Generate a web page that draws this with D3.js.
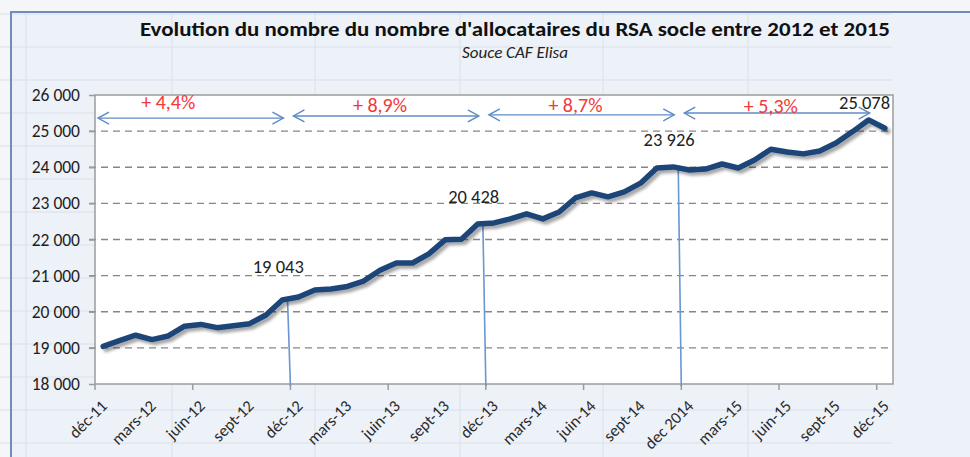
<!DOCTYPE html>
<html>
<head>
<meta charset="utf-8">
<script src="https://cdn.jsdelivr.net/npm/d3@7"></script>
<style>
  body { margin: 0; background: #f4f6fa; }
  svg { display: block; font-family: Carlito, Lato, sans-serif; }
</style>
</head>
<body>
<div id="chart"></div>
<script>
// monthly categories, déc-11 -> déc-15
const months = [
  "déc-11", "janv-12", "févr-12", "mars-12", "avr-12", "mai-12", "juin-12", "juil-12", "août-12", "sept-12", "oct-12", "nov-12",
  "déc-12", "janv-13", "févr-13", "mars-13", "avr-13", "mai-13", "juin-13", "juil-13", "août-13", "sept-13", "oct-13", "nov-13",
  "déc-13", "janv-14", "févr-14", "mars-14", "avr-14", "mai-14", "juin-14", "juil-14", "août-14", "sept-14", "oct-14", "nov-14",
  "dec 2014", "janv-15", "févr-15", "mars-15", "avr-15", "mai-15", "juin-15", "juil-15", "août-15", "sept-15", "oct-15", "nov-15",
  "déc-15"
];

// allocataires RSA socle
const values = [
  19043, 19200, 19350, 19230, 19330, 19600, 19650, 19560, 19610, 19670, 19910, 20325,
  20410, 20600, 20630, 20700, 20850, 21150, 21350, 21350, 21600, 21990, 22010, 22430,
  22460, 22570, 22710, 22570, 22760, 23150, 23290, 23180, 23320, 23560, 23980, 24010,
  23926, 23950, 24090, 23980, 24200, 24500, 24420, 24370, 24450, 24670, 24980, 25310,
  25078
];

const yTicks = [18000, 19000, 20000, 21000, 22000, 23000, 24000, 25000, 26000];

// yearly spans with their growth rate
const spanStart = ["déc-11", "déc-12", "déc-13", "dec 2014"];
const spanEnd = ["déc-12", "déc-13", "dec 2014", "déc-15"];
const spanArrowY = [25360, 25420, 25450, 25500];
const spanLabels = ["+ 4,4%", "+ 8,9%", "+ 8,7%", "+ 5,3%"];
const spanLabelMonth = ["avr-12", "mai-13", "mai-14", "mai-15"];
const spanLabelY = [25610, 25530, 25530, 25500];

// black value notes
const noteLabels = ["19 043", "20 428", "23 926", "25 078"];
const noteMonth = ["nov-12", "nov-13", "nov-14", "nov-15"];
const noteY = [21070, 23010, 24590, 25610];

// vertical markers
const markerMonths = ["déc-12", "déc-13", "dec 2014"];

const title = "Evolution du nombre du nombre d'allocataires du RSA socle entre 2012 et 2015";
const subtitle = "Souce CAF Elisa";

const width = 970;
const height = 457;
const plot = { left: 95, right: 893, top: 95, bottom: 384 };

const svg = d3.select("#chart").append("svg")
  .attr("width", width)
  .attr("height", height);

const defs = svg.append("defs");
defs.append("filter")
  .attr("id", "shadow")
  .attr("x", "-5%").attr("y", "-20%").attr("width", "110%").attr("height", "140%")
  .append("feDropShadow")
  .attr("dx", 3).attr("dy", 3)
  .attr("stdDeviation", 1.8)
  .attr("flood-color", "#000")
  .attr("flood-opacity", 0.35);

defs.append("marker")
  .attr("id", "open-arrow")
  .attr("viewBox", "-12 -7 14 14")
  .attr("refX", 0).attr("refY", 0)
  .attr("markerWidth", 14).attr("markerHeight", 14)
  .attr("markerUnits", "userSpaceOnUse")
  .attr("orient", "auto-start-reverse")
  .append("path")
  .attr("d", "M-11,-6L0,0L-11,6")
  .attr("fill", "none")
  .attr("stroke", "#5f8ac6")
  .attr("stroke-width", 1.4);

// spreadsheet background
svg.append("rect")
  .attr("x", 11).attr("y", 12)
  .attr("width", width).attr("height", height)
  .attr("fill", "#edf1f8");

svg.append("g")
  .selectAll("line")
  .data(d3.range(14, height, 33))
  .join("line")
  .attr("x1", 0).attr("x2", 892)
  .attr("y1", d => d).attr("y2", d => d)
  .attr("stroke", "#dbe1ea");

svg.append("g")
  .selectAll("line")
  .data([26, 172, 315, 460, 603, 748])
  .join("line")
  .attr("x1", d => d).attr("x2", d => d)
  .attr("y1", 12).attr("y2", height)
  .attr("stroke", "#dbe1ea");

svg.append("path")
  .attr("d", `M11,${height}V12H${width}`)
  .attr("fill", "none")
  .attr("stroke", "#6f8dbb")
  .attr("stroke-width", 2);

// scales
const x = d3.scaleBand()
  .domain(months)
  .range([plot.left, plot.right])
  .padding(0);
const xc = m => x(m) + x.bandwidth() / 2;

const y = d3.scaleLinear()
  .domain([18000, 26000])
  .range([plot.bottom, plot.top]);

// plot area
svg.append("rect")
  .attr("x", plot.left).attr("y", plot.top)
  .attr("width", plot.right - plot.left)
  .attr("height", plot.bottom - plot.top)
  .attr("fill", "#fff");

// dashed grid
svg.append("g")
  .selectAll("line")
  .data(yTicks.slice(1, -1))
  .join("line")
  .attr("x1", plot.left - 6).attr("x2", plot.right)
  .attr("y1", d => y(d)).attr("y2", d => y(d))
  .attr("stroke", "#868686")
  .attr("stroke-width", 1.3)
  .attr("stroke-dasharray", "7,5");

svg.append("rect")
  .attr("x", plot.left).attr("y", plot.top)
  .attr("width", plot.right - plot.left)
  .attr("height", plot.bottom - plot.top)
  .attr("fill", "none")
  .attr("stroke", "#9c9c9c")
  .attr("stroke-width", 1.5);

// y axis
const yAxis = d3.axisLeft(y)
  .tickValues(yTicks)
  .tickSize(6)
  .tickPadding(9)
  .tickFormat(d => d3.format(",")(d).replace(",", " "));

svg.append("g")
  .attr("transform", `translate(${plot.left},0)`)
  .call(yAxis)
  .call(g => g.select(".domain").remove())
  .call(g => g.selectAll(".tick line").attr("stroke", "#9c9c9c").attr("stroke-width", 1.5))
  .call(g => g.selectAll(".tick text")
    .attr("fill", "#1e1e1e")
    .style("font-family", "Carlito, Lato, sans-serif")
    .style("font-size", "17.5px"));

// x axis: ticks every 6 months on band edges, labels every 3 months
svg.append("g")
  .selectAll("line")
  .data(months.filter((d, i) => i % 6 === 0))
  .join("line")
  .attr("x1", d => x(d)).attr("x2", d => x(d))
  .attr("y1", plot.bottom).attr("y2", plot.bottom + 6)
  .attr("stroke", "#9c9c9c")
  .attr("stroke-width", 1.5);

svg.append("g")
  .selectAll("text")
  .data(months.filter((d, i) => i % 3 === 0))
  .join("text")
  .attr("transform", d => `translate(${xc(d) + 5},${plot.bottom + 23}) rotate(-45)`)
  .attr("text-anchor", "end")
  .attr("fill", "#2a2a2a")
  .style("font-size", "16.5px")
  .text(d => d);

// vertical markers
svg.append("g")
  .selectAll("line")
  .data(markerMonths)
  .join("line")
  .attr("x1", d => x(d) - 3).attr("x2", d => x(d))
  .attr("y1", d => y(values[months.indexOf(d)])).attr("y2", plot.bottom + 2)
  .attr("stroke", "#6a96d2")
  .attr("stroke-width", 1.6);

// series line
const line = d3.line()
  .x((d, i) => xc(months[i]))
  .y(d => y(d))
  .curve(d3.curveLinear);

svg.append("path")
  .datum(values)
  .attr("d", line)
  .attr("fill", "none")
  .attr("stroke", "#1f4478")
  .attr("stroke-width", 5.5)
  .attr("stroke-linejoin", "round")
  .attr("stroke-linecap", "round")
  .attr("filter", "url(#shadow)");

// span arrows
svg.append("g")
  .selectAll("line")
  .data(spanStart)
  .join("line")
  .attr("x1", (d, i) => x(d) + 3)
  .attr("x2", (d, i) => x(spanEnd[i]) - 7)
  .attr("y1", (d, i) => y(spanArrowY[i]))
  .attr("y2", (d, i) => y(spanArrowY[i]))
  .attr("stroke", "#5f8ac6")
  .attr("stroke-width", 1.4)
  .attr("marker-start", "url(#open-arrow)")
  .attr("marker-end", "url(#open-arrow)");

svg.append("g")
  .selectAll("text")
  .data(spanLabels)
  .join("text")
  .attr("x", (d, i) => xc(spanLabelMonth[i]))
  .attr("y", (d, i) => y(spanLabelY[i]))
  .attr("text-anchor", "middle")
  .attr("fill", "#f23a3a")
  .style("font-size", "20px")
  .text(d => d);

svg.append("g")
  .selectAll("text")
  .data(noteLabels)
  .join("text")
  .attr("x", (d, i) => xc(noteMonth[i]) - 4)
  .attr("y", (d, i) => y(noteY[i]))
  .attr("text-anchor", "middle")
  .attr("fill", "#222")
  .style("font-size", "18.5px")
  .text(d => d);

// titles
svg.append("text")
  .attr("x", 515).attr("y", 36)
  .attr("text-anchor", "middle")
  .attr("textLength", 750)
  .attr("lengthAdjust", "spacingAndGlyphs")
  .attr("fill", "#111")
  .style("font-size", "21px")
  .style("font-weight", "bold")
  .text(title);

svg.append("text")
  .attr("x", 515).attr("y", 58)
  .attr("text-anchor", "middle")
  .attr("fill", "#222")
  .style("font-size", "17px")
  .style("font-style", "italic")
  .text(subtitle);
</script>
</body>
</html>
